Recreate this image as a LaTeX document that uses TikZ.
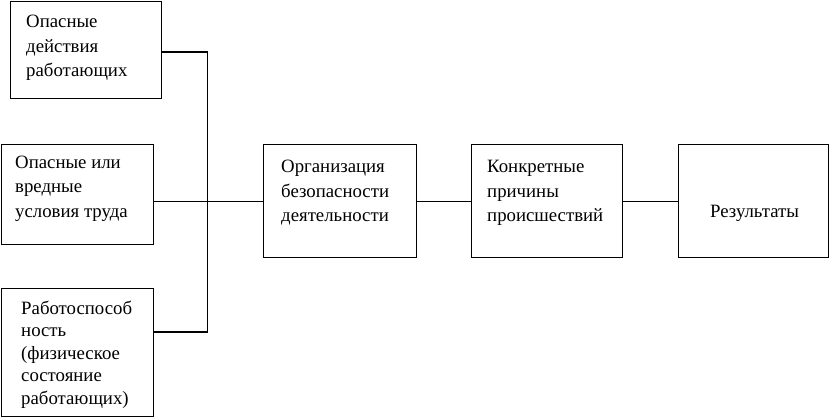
\documentclass[tikz,border=0pt]{standalone}
\usepackage{fontspec}
\setmainfont{Liberation Serif}
\begin{document}
\begin{tikzpicture}[x=1pt,y=-1pt,
  box/.style={draw=black,line width=1.2pt,fill=white,inner sep=0pt},
  txt/.style={anchor=north west,inner sep=0pt,align=left,font=\fontsize{18.8}{24.5}\selectfont},
  txttight/.style={txt,font=\fontsize{18.8}{22.5}\selectfont},
  link/.style={draw=black,line width=1.2pt}]
\useasboundingbox[fill=white] (0,0) rectangle (830,418);
% boxes
\node[box,minimum width=151pt,minimum height=97pt,anchor=north west] (b1) at (10,1) {};
\node[box,minimum width=152pt,minimum height=100pt,anchor=north west] (b2) at (1,144) {};
\node[box,minimum width=152pt,minimum height=128pt,anchor=north west] (b3) at (1,288) {};
\node[box,minimum width=153pt,minimum height=113pt,anchor=north west] (org) at (263,144) {};
\node[box,minimum width=151pt,minimum height=113pt,anchor=north west] (konk) at (471,144) {};
\node[box,minimum width=150pt,minimum height=113pt,anchor=north west] (res) at (678,144) {};
% texts
\node[txt] (t1) at (26,15) {Опасные\\действия\\работающих};
\node[txt] (t2) at (15,155.5) {Опасные или\\вредные\\условия труда};
\node[txttight] (t3) at (21,300.5) {Работоспособ\\ность\\(физическое\\состояние\\работающих)};
\node[txt] (t4) at (281,160) {Организация\\безопасности\\деятельности};
\node[txt] (t5) at (487,160) {Конкретные\\причины\\происшествий};
\node[txt] (t6) at (710,204.5) {Результаты};
% connectors
\coordinate (bus) at (207.7,52);
\coordinate (low) at (207.7,332);
\draw[link] (b1.east |- bus) -- (bus) -- (low) -- (b3.east |- low);
\draw[link] (b2.east |- org.west) -- (org.west);
\draw[link] (org.east) -- (konk.west);
\draw[link] (konk.east) -- (res.west);
\end{tikzpicture}
\end{document}
